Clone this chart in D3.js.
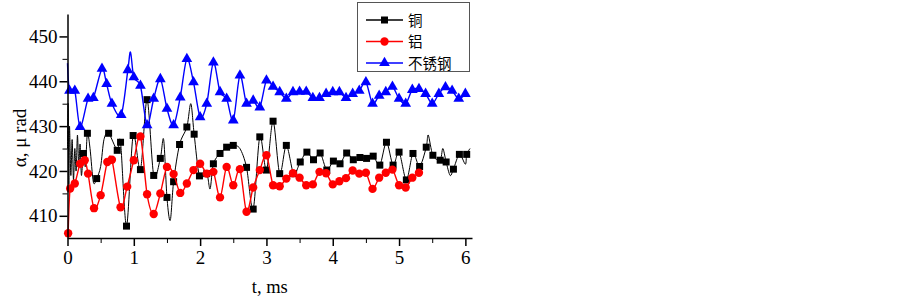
<!DOCTYPE html>
<html>
<head>
<meta charset="utf-8">
<script src="https://cdn.jsdelivr.net/npm/d3@7"></script>
<style>
  body { margin: 0; background: #fff; }
  svg { display: block; }
</style>
</head>
<body>
<div id="chart"></div>
<script>
// series names (legend)
let seriesNames = ['铜', '铝', '不锈钢'];

// 铜 (copper): marker points
let cuT = [0.24, 0.30, 0.44, 0.62, 0.75, 0.80, 0.89, 0.99, 1.10, 1.20, 1.30, 1.40, 1.50, 1.60, 1.69, 1.80, 1.91, 1.99,
           2.10, 2.20, 2.30, 2.40, 2.50, 2.70, 2.80, 2.90, 3.00, 3.10, 3.20, 3.30, 3.41, 3.51, 3.61, 3.71, 3.81, 3.91,
           4.01, 4.11, 4.21, 4.31, 4.41, 4.51, 4.61, 4.71, 4.81, 4.91, 5.00, 5.11, 5.21, 5.31, 5.41, 5.51, 5.62, 5.71,
           5.82, 5.91, 6.02];
let cuV = [423.9, 428.4, 418.3, 428.4, 424.6, 426.4, 407.7, 427.9, 420.3, 435.9, 419.0, 422.8, 414.1, 417.6, 425.9, 429.8, 428.2, 418.9,
           419.4, 421.6, 423.9, 425.3, 425.7, 420.8, 411.5, 427.6, 420.2, 431.1, 419.4, 425.7, 419.4, 422.0, 424.2, 422.5, 424.0, 420.2,
           422.2, 421.6, 424.0, 422.5, 423.0, 422.8, 423.3, 421.3, 426.4, 421.3, 424.2, 418.0, 423.9, 421.0, 425.3, 423.5, 422.4, 422.0,
           420.4, 423.7, 423.7];
// 铜: extra line-only points (the thin curve wiggles between markers)
let cuExtraT = [0.00, 0.01, 0.02, 0.03, 0.05, 0.07, 0.09, 0.11, 0.13, 0.15, 0.17, 0.19, 0.21, 0.27, 0.34, 0.39, 0.50, 0.55,
                1.45, 1.55, 1.86, 2.15, 2.60, 5.44, 5.66, 5.77, 6.00, 6.07];
let cuExtraV = [425, 435, 417, 430, 419, 427, 418, 425, 420, 428, 421, 426, 419, 421, 425, 417.5, 421, 427,
                427, 409, 435, 416, 425, 428, 425, 419, 421.5, 425];

// 铝 (aluminium)
let alT = [0.01, 0.04, 0.11, 0.19, 0.26, 0.31, 0.40, 0.50, 0.60, 0.67, 0.80, 0.90, 1.00, 1.10, 1.20, 1.30, 1.40, 1.50, 1.60,
           1.70, 1.80, 1.90, 2.00, 2.10, 2.20, 2.30, 2.40, 2.50, 2.60, 2.70, 2.80, 2.90, 3.00, 3.10, 3.20, 3.30, 3.40, 3.50,
           3.60, 3.70, 3.80, 3.90, 4.00, 4.10, 4.20, 4.30, 4.40, 4.50, 4.60, 4.70, 4.80, 4.90, 5.00, 5.10, 5.20, 5.30];
let alV = [406.1, 416.1, 417.2, 421.6, 422.4, 419.4, 411.7, 414.6, 422.0, 422.5, 411.9, 416.5, 422.4, 427.7, 414.8, 410.4, 415.0, 420.9, 419.3,
           415.1, 417.2, 420.2, 421.6, 419.4, 419.8, 414.1, 420.9, 416.8, 420.4, 410.9, 416.3, 420.2, 423.5, 416.8, 416.6, 418.3, 419.5, 418.5,
           416.8, 417.0, 419.8, 419.5, 417.0, 417.7, 418.4, 420.1, 419.4, 419.6, 416.0, 418.5, 419.6, 420.3, 416.8, 416.3, 418.5, 419.6];

// 不锈钢 (stainless steel)
let ssT = [0.03, 0.11, 0.19, 0.31, 0.39, 0.52, 0.59, 0.67, 0.81, 0.91, 1.00, 1.10, 1.20, 1.30, 1.40, 1.50, 1.60, 1.70, 1.80, 1.90,
           2.00, 2.10, 2.20, 2.30, 2.40, 2.50, 2.60, 2.70, 2.80, 2.90, 3.00, 3.10, 3.20, 3.30, 3.40, 3.50, 3.60, 3.70, 3.80, 3.90,
           4.00, 4.10, 4.20, 4.30, 4.40, 4.50, 4.60, 4.70, 4.80, 4.90, 5.00, 5.10, 5.20, 5.30, 5.40, 5.50, 5.60, 5.70, 5.80, 5.90, 6.00];
let ssV = [437.9, 437.9, 429.8, 436.1, 436.3, 442.8, 439.4, 435.0, 432.5, 442.5, 440.9, 439.0, 430.2, 436.1, 440.5, 433.9, 430.2, 436.4, 445.0, 439.8,
           432.0, 435.0, 444.2, 437.6, 436.1, 431.3, 441.3, 435.0, 435.7, 434.2, 440.2, 438.8, 437.6, 436.1, 437.6, 437.7, 437.7, 436.3, 436.3, 437.2,
           437.6, 437.6, 436.3, 437.2, 437.9, 439.8, 435.0, 436.8, 437.6, 438.8, 436.1, 435.0, 438.1, 438.3, 437.2, 435.0, 437.2, 438.7, 437.9, 436.1, 437.2];
let ssExtraT = [0.00, 0.95];
let ssExtraV = [444, 446.5];

// axis ticks
let xTicks = [0, 1, 2, 3, 4, 5, 6];
let yTicks = [410, 420, 430, 440, 450];

function zip(t, v) { return t.map(function(d, i) { return {t: d, v: v[i]} }) }
function merged(t, v, et, ev) {
    return zip(t, v).concat(zip(et, ev)).sort(function(a, b) { return a.t - b.t });
}

function drawChart() {
    let width = 903, height = 298;
    let margin = {top: 14, right: 431, bottom: 60, left: 67.5};
    let serif = "Liberation Serif, Times New Roman, serif";

    let svg = d3.select("#chart").append("svg")
                .attr("width", width)
                .attr("height", height);

    let xScale = d3.scaleLinear().domain([0, 6.1]).range([margin.left, width - margin.right]);
    let yScale = d3.scaleLinear().domain([405.05, 455]).range([height - margin.bottom, margin.top]);

    let series = [
        {name: seriesNames[0], color: "#000000", width: 1, marker: "square",
         line: merged(cuT, cuV, cuExtraT, cuExtraV), marks: zip(cuT, cuV)},
        {name: seriesNames[1], color: "#ff0000", width: 1.4, marker: "circle",
         line: zip(alT, alV), marks: zip(alT, alV)},
        {name: seriesNames[2], color: "#0000ff", width: 1.4, marker: "triangle",
         line: merged(ssT, ssV, ssExtraT, ssExtraV), marks: zip(ssT, ssV)}
    ];

    let symbols = {
        square: d3.symbol().type(d3.symbolSquare).size(49),
        circle: d3.symbol().type(d3.symbolCircle).size(55),
        triangle: d3.symbol().type(d3.symbolTriangle).size(50)
    };

    let line = d3.line()
        .x(function(d) { return xScale(d.t) })
        .y(function(d) { return yScale(d.v) })
        .curve(d3.curveCardinal.tension(0.1));

    series.forEach(function(s) {
        let g = svg.append("g");
        g.append("path")
            .datum(s.line)
            .attr("d", line)
            .attr("fill", "none")
            .attr("stroke", s.color)
            .attr("stroke-width", s.width);
        g.selectAll("path.mark")
            .data(s.marks)
            .enter()
            .append("path")
            .attr("class", "mark")
            .attr("d", symbols[s.marker])
            .attr("transform", function(d) { return "translate(" + xScale(d.t) + "," + yScale(d.v) + ")" })
            .attr("fill", s.color);
    });

    function styleAxis(g) {
        g.selectAll("line, path").attr("stroke-width", 1.5);
        g.selectAll("text").attr("font-family", serif).attr("font-size", 19).attr("fill", "#000");
    }

    /* x axis: minor ticks then major ticks with labels */
    let x0 = height - margin.bottom;
    svg.append("g")
        .attr("transform", "translate(0," + x0 + ")")
        .call(d3.axisBottom(xScale).tickValues([0.5, 1.5, 2.5, 3.5, 4.5, 5.5]).tickSize(5).tickFormat(""))
        .call(function(g) { g.select(".domain").remove() });
    svg.append("g")
        .attr("transform", "translate(0," + x0 + ")")
        .call(d3.axisBottom(xScale).tickValues(xTicks).tickSize(8).tickSizeOuter(0).tickPadding(5).tickFormat(d3.format("d")))
        .call(styleAxis);

    /* y axis */
    svg.append("g")
        .attr("transform", "translate(" + margin.left + ",0)")
        .call(d3.axisLeft(yScale).tickValues([415, 425, 435, 445]).tickSize(5).tickFormat(""))
        .call(function(g) { g.select(".domain").remove() });
    svg.append("g")
        .attr("transform", "translate(" + margin.left + ",0)")
        .call(d3.axisLeft(yScale).tickValues(yTicks).tickSize(8).tickSizeOuter(0).tickPadding(2).tickFormat(d3.format("d")))
        .call(styleAxis);

    svg.append("text")
        .attr("x", xScale(3.05))
        .attr("y", 293)
        .attr("text-anchor", "middle")
        .attr("font-family", serif)
        .attr("font-size", 18.5)
        .text("t, ms");

    svg.append("text")
        .attr("transform", "translate(26,138) rotate(-90)")
        .attr("text-anchor", "middle")
        .attr("font-family", serif)
        .attr("font-size", 19)
        .text("α, μ rad");

    /* legend */
    let legend = svg.append("g");
    legend.append("rect")
        .attr("x", 357.5).attr("y", 2.5)
        .attr("width", 112).attr("height", 69)
        .attr("fill", "#fff")
        .attr("stroke", "#555")
        .attr("stroke-width", 1);
    series.forEach(function(s, i) {
        let ly = 20 + i * 21.5;
        legend.append("line")
            .attr("x1", 366).attr("x2", 403)
            .attr("y1", ly).attr("y2", ly)
            .attr("stroke", s.color).attr("stroke-width", 1.4);
        legend.append("path")
            .attr("d", symbols[s.marker])
            .attr("transform", "translate(384.5," + ly + ")")
            .attr("fill", s.color);
        legend.append("text")
            .attr("x", 408)
            .attr("y", ly + 5.5)
            .attr("font-family", "Noto Sans CJK SC, sans-serif")
            .attr("font-size", 14.5)
            .text(s.name);
    });
}

drawChart();
</script>
</body>
</html>
